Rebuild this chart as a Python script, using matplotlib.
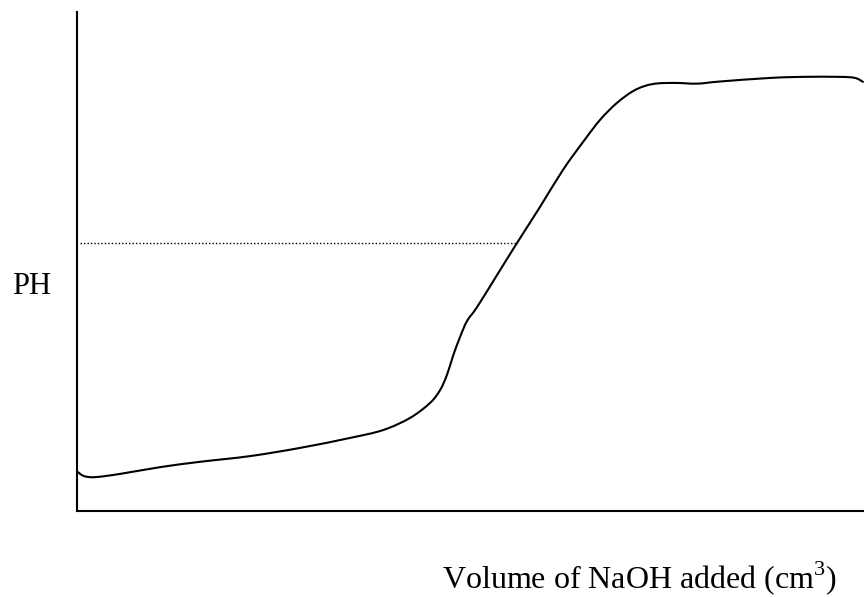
import matplotlib
matplotlib.use("Agg")
import matplotlib.pyplot as plt
from matplotlib.path import Path
from matplotlib.patches import PathPatch

plt.rcParams['font.family'] = ['Liberation Serif', 'DejaVu Serif']
plt.rcParams['mathtext.fontset'] = 'custom'
plt.rcParams['mathtext.rm'] = 'Liberation Serif'

# titration curve (volume %, pH-like units)
volume = [0.13, 0.89, 2.29, 5.46, 10.55, 15.63, 21.98, 28.34, 34.69, 38.88,
          42.31, 44.85, 46.13, 47.01, 47.78, 48.67, 49.56, 50.83, 53.37, 55.91,
          58.83, 61.75, 64.29, 66.45, 68.61, 70.90, 73.19, 75.98, 78.78, 81.70,
          88.06, 92.25, 96.95, 98.86, 99.87]
ph = [1.09, 0.98, 0.95, 1.04, 1.23, 1.38, 1.54, 1.77, 2.05, 2.27,
      2.61, 3.03, 3.39, 3.82, 4.35, 4.88, 5.33, 5.72, 6.62, 7.52,
      8.53, 9.57, 10.35, 10.97, 11.45, 11.81, 11.98, 12.01, 11.99, 12.05,
      12.15, 12.18, 12.18, 12.15, 12.04]
half_eq_ph = 7.52
half_eq_vol = 55.91

fig = plt.figure(figsize=(8.64, 5.97), dpi=100)
ax = fig.add_axes([77/864, 1-511/597, 1-77/864, (511-12)/597])

# smooth line through the read points (catmull-rom as bezier segments)
verts = [(volume[0], ph[0])]
codes = [Path.MOVETO]
n = len(volume)
for i in range(n - 1):
    p0 = (volume[max(i-1, 0)], ph[max(i-1, 0)])
    p1 = (volume[i], ph[i])
    p2 = (volume[i+1], ph[i+1])
    p3 = (volume[min(i+2, n-1)], ph[min(i+2, n-1)])
    c1 = (p1[0] + (p2[0]-p0[0])/6, p1[1] + (p2[1]-p0[1])/6)
    c2 = (p2[0] - (p3[0]-p1[0])/6, p2[1] - (p3[1]-p1[1])/6)
    verts += [c1, c2, p2]
    codes += [Path.CURVE4]*3
ax.add_patch(PathPatch(Path(verts, codes), fill=False, edgecolor='black',
                       lw=1.5, capstyle='round'))

ax.plot([0.4, half_eq_vol], [half_eq_ph, half_eq_ph], color='black', lw=1,
        linestyle=(0, (1, 1.5)))

ax.set_xlim(0, 100)
ax.set_ylim(0, 14)
ax.set_xticks([])
ax.set_yticks([])
ax.spines['top'].set_visible(False)
ax.spines['right'].set_visible(False)
for s in ['left', 'bottom']:
    ax.spines[s].set_linewidth(1.5)

fig.text(31.5/864, 1-286/597, 'PH', fontsize=22, ha='center', va='center')
fig.text(640/864, 1-588/597, 'Volume of NaOH added (cm$^{3}$)', fontsize=23,
         ha='center', va='baseline')

fig.savefig('out.png', dpi=100)
